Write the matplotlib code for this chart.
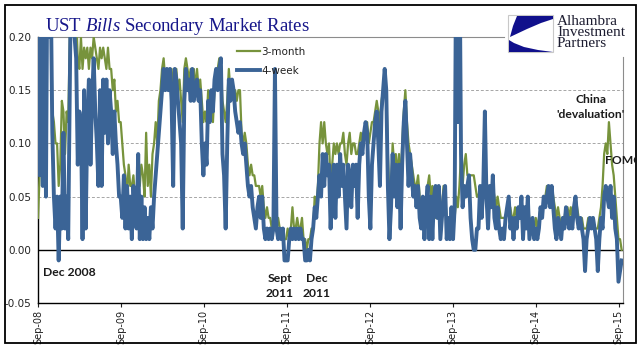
import numpy as np
import pandas as pd
import matplotlib
matplotlib.use("Agg")
import matplotlib.pyplot as plt
import matplotlib.dates as mdates
from matplotlib.patches import Rectangle, Polygon
from matplotlib.transforms import Bbox, TransformedBbox
from matplotlib import rcParams

rcParams['font.family'] = 'DejaVu Sans'
rcParams['mathtext.fontset'] = 'custom'
rcParams['mathtext.rm'] = 'Liberation Serif'
rcParams['mathtext.it'] = 'Liberation Serif:italic'

# weekly readings, Sep 2008 -> Sep 2015 (values above 0.20 are off the chart)
start_date = "2008-09-01"

bills_3m = [
    0.03, 0.07, 0.25, 0.30, 0.30, 0.25, 0.30, 0.30, 0.25, 0.13, 0.12, 0.10, 0.10,
    0.06, 0.08, 0.14, 0.13, 0.09, 0.13, 0.12, 0.20, 0.30, 0.25, 0.30, 0.22, 0.18,
    0.17, 0.20, 0.17, 0.19, 0.18, 0.19, 0.17, 0.19, 0.18, 0.20, 0.19, 0.18, 0.17,
    0.19, 0.18, 0.19, 0.18, 0.17, 0.19, 0.17, 0.17, 0.15, 0.16, 0.13, 0.14, 0.12,
    # Sep-09
    0.12, 0.10, 0.08, 0.07, 0.05, 0.08, 0.06, 0.06, 0.07, 0.05, 0.02, 0.08, 0.06,
    0.08, 0.07, 0.05, 0.11, 0.06, 0.08, 0.05, 0.09, 0.10, 0.12, 0.10, 0.14, 0.15,
    0.17, 0.18, 0.16, 0.17, 0.17, 0.16, 0.17, 0.15, 0.17, 0.17, 0.15, 0.16, 0.14,
    0.12, 0.17, 0.18, 0.17, 0.16, 0.17, 0.16, 0.17, 0.15, 0.17, 0.15, 0.16, 0.14,
    # Sep-10
    0.12, 0.13, 0.12, 0.15, 0.13, 0.14, 0.12, 0.15, 0.17, 0.17, 0.18, 0.17, 0.14,
    0.13, 0.12, 0.14, 0.17, 0.15, 0.16, 0.15, 0.15, 0.14, 0.15, 0.15, 0.11, 0.10,
    0.11, 0.10, 0.08, 0.07, 0.08, 0.07, 0.07, 0.06, 0.06, 0.06, 0.05, 0.06, 0.04,
    0.03, 0.04, 0.03, 0.03, 0.02, 0.03, 0.04, 0.02, 0.03, 0.02, 0.02, 0.01, 0.01,
    # Sep-11
    0.01, 0.02, 0.01, 0.02, 0.04, 0.02, 0.02, 0.03, 0.02, 0.02, 0.03, 0.01, 0.01,
    0.00, 0.01, 0.01, 0.02, 0.02, 0.05, 0.04, 0.06, 0.10, 0.12, 0.10, 0.12, 0.10,
    0.09, 0.10, 0.06, 0.08, 0.10, 0.09, 0.10, 0.09, 0.10, 0.10, 0.11, 0.09, 0.08,
    0.10, 0.11, 0.09, 0.10, 0.10, 0.09, 0.09, 0.10, 0.11, 0.10, 0.11, 0.12, 0.12,
    # Sep-12
    0.10, 0.11, 0.12, 0.12, 0.13, 0.14, 0.13, 0.12, 0.14, 0.15, 0.16, 0.15, 0.09,
    0.05, 0.06, 0.10, 0.08, 0.09, 0.07, 0.09, 0.06, 0.10, 0.13, 0.15, 0.12, 0.10,
    0.09, 0.08, 0.07, 0.06, 0.06, 0.07, 0.05, 0.04, 0.05, 0.03, 0.05, 0.06, 0.07,
    0.05, 0.06, 0.04, 0.03, 0.05, 0.05, 0.03, 0.04, 0.06, 0.05, 0.03, 0.02, 0.02,
    # Sep-13
    0.03, 0.02, 0.03, 0.05, 0.04, 0.06, 0.09, 0.06, 0.08, 0.09, 0.07, 0.07, 0.07,
    0.07, 0.07, 0.06, 0.05, 0.05, 0.06, 0.05, 0.05, 0.06, 0.05, 0.04, 0.05, 0.05,
    0.06, 0.05, 0.04, 0.05, 0.04, 0.03, 0.03, 0.03, 0.03, 0.04, 0.04, 0.04, 0.03,
    0.03, 0.04, 0.03, 0.04, 0.04, 0.04, 0.03, 0.04, 0.03, 0.04, 0.03, 0.02, 0.03,
    # Sep-14
    0.02, 0.03, 0.02, 0.03, 0.04, 0.04, 0.04, 0.05, 0.06, 0.05, 0.05, 0.06, 0.05,
    0.04, 0.03, 0.04, 0.03, 0.02, 0.03, 0.03, 0.04, 0.04, 0.03, 0.04, 0.03, 0.04,
    0.05, 0.04, 0.03, 0.03, 0.03, 0.02, 0.02, 0.02, 0.03, 0.03, 0.03, 0.03, 0.02,
    0.02, 0.02, 0.03, 0.04, 0.06, 0.09, 0.10, 0.09, 0.12, 0.10, 0.08, 0.07, 0.05,
    0.03, 0.01, 0.01, 0.00,
]

bills_4w = [
    0.25, 0.07, 0.30, 0.06, 0.25, 0.05, 0.30, 0.20, 0.25, 0.11, 0.05, 0.02, 0.05,
    -0.01, 0.05, 0.02, 0.11, 0.02, 0.05, 0.01, 0.15, 0.30, 0.25, 0.20, 0.18, 0.08,
    0.13, 0.12, 0.01, 0.15, 0.02, 0.12, 0.16, 0.08, 0.14, 0.18, 0.13, 0.10, 0.06,
    0.15, 0.06, 0.16, 0.11, 0.16, 0.10, 0.15, 0.13, 0.09, 0.13, 0.10, 0.08, 0.05,
    # Sep-09
    0.05, 0.03, 0.07, 0.02, 0.06, 0.02, 0.05, 0.01, 0.06, 0.03, 0.02, 0.09, 0.01,
    0.05, 0.01, 0.04, 0.01, 0.03, 0.01, 0.04, 0.02, 0.05, 0.07, 0.09, 0.11, 0.13,
    0.15, 0.17, 0.15, 0.17, 0.15, 0.17, 0.14, 0.06, 0.17, 0.16, 0.14, 0.12, 0.10,
    0.02, 0.14, 0.17, 0.15, 0.16, 0.14, 0.17, 0.14, 0.15, 0.16, 0.14, 0.15, 0.10,
    # Sep-10
    0.07, 0.10, 0.08, 0.14, 0.12, 0.15, 0.13, 0.16, 0.17, 0.15, 0.17, 0.18, 0.09,
    0.07, 0.02, 0.10, 0.16, 0.14, 0.16, 0.15, 0.13, 0.12, 0.11, 0.12, 0.10, 0.09,
    0.10, 0.08, 0.06, 0.05, 0.06, 0.04, 0.03, 0.02, 0.04, 0.05, 0.03, 0.05, 0.02,
    0.01, 0.02, 0.01, 0.02, 0.01, 0.02, 0.17, 0.02, 0.01, 0.02, 0.01, 0.02, -0.01,
    # Sep-11
    -0.01, -0.01, 0.01, 0.02, 0.01, 0.02, 0.01, 0.02, 0.01, 0.02, 0.01, 0.01, -0.01,
    -0.01, 0.00, -0.01, 0.01, 0.02, 0.04, 0.03, 0.05, 0.07, 0.05, 0.09, 0.06, 0.09,
    0.07, 0.08, 0.02, 0.06, 0.08, 0.03, 0.08, 0.05, 0.09, 0.06, 0.08, 0.05, 0.02,
    0.08, 0.07, 0.04, 0.08, 0.06, 0.08, 0.03, 0.08, 0.10, 0.09, 0.11, 0.12, 0.11,
    # Sep-12
    0.05, 0.02, 0.08, 0.10, 0.12, 0.13, 0.10, 0.06, 0.13, 0.15, 0.17, 0.15, 0.06,
    0.01, 0.04, 0.09, 0.05, 0.08, 0.04, 0.08, 0.02, 0.08, 0.12, 0.14, 0.10, 0.06,
    0.09, 0.07, 0.05, 0.06, 0.04, 0.06, 0.03, 0.02, 0.05, 0.01, 0.04, 0.06, 0.01,
    0.05, 0.01, 0.05, 0.06, 0.03, 0.06, 0.01, 0.03, 0.05, 0.06, 0.01, 0.03, 0.01,
    # Sep-13
    0.04, 0.01, 0.04, 0.30, 0.12, 0.30, 0.09, 0.04, 0.06, 0.05, 0.06, 0.07, 0.03,
    0.01, 0.00, 0.00, 0.02, 0.02, 0.06, 0.03, 0.06, 0.13, 0.05, 0.02, 0.06, 0.04,
    0.07, 0.03, 0.02, 0.04, 0.02, 0.01, 0.02, 0.01, 0.03, 0.04, 0.05, 0.02, 0.03,
    0.01, 0.03, 0.02, 0.04, 0.03, 0.05, 0.01, 0.04, 0.02, 0.05, 0.01, 0.02, 0.03,
    # Sep-14
    0.01, 0.02, 0.01, 0.02, 0.04, 0.03, 0.05, 0.04, 0.05, 0.06, 0.04, 0.06, 0.04,
    0.02, 0.01, 0.03, 0.02, 0.01, 0.03, 0.02, 0.04, 0.03, 0.02, 0.03, 0.02, 0.04,
    0.05, 0.03, 0.02, 0.03, 0.02, 0.01, -0.02, 0.01, 0.02, 0.03, 0.02, 0.03, 0.02,
    0.01, -0.02, 0.01, 0.03, 0.02, 0.05, 0.06, 0.05, 0.04, 0.06, 0.03, 0.05, 0.02,
    0.01, -0.03, -0.02, -0.01,
]

dates = pd.date_range(start_date, periods=len(bills_4w), freq="7D")
year_ticks = pd.date_range("2008-09-01", "2015-09-01", freq="12MS")

green = "#77933c"
blue = "#3b6496"
navy = "#16168a"

W, H = 644, 361
fig = plt.figure(figsize=(W / 100, H / 100), dpi=100)
fig.patch.set_facecolor("white")


def fx(px):
    return px / W


def fy(py):
    return 1 - py / H


ax = fig.add_axes([fx(38), fy(303), fx(623) - fx(38), fy(37) - fy(303)])

ax.plot(dates, bills_3m, color=green, lw=1.6, solid_joinstyle="round", label="3-month", zorder=3)
ax.plot(dates, bills_4w, color=blue, lw=2.8, solid_joinstyle="round", label="4-week", zorder=4)

ax.set_ylim(-0.05, 0.20)
ax.set_xlim(pd.Timestamp("2008-09-01"), pd.Timestamp("2015-09-20"))
ax.set_yticks(np.arange(-0.05, 0.201, 0.05))
ax.yaxis.set_major_formatter(matplotlib.ticker.FormatStrFormatter("%.2f"))
ax.set_xticks(year_ticks)
ax.xaxis.set_major_formatter(mdates.DateFormatter("Sep-%y"))
plt.setp(ax.get_xticklabels(), rotation=90, ha="center", va="top")
ax.tick_params(axis="y", length=0, pad=5, labelsize=7.5, colors="#222222")
ax.tick_params(axis="x", length=3, width=0.8, direction="out", pad=2, labelsize=7, colors="#222222")

for g in [0.05, 0.10, 0.15]:
    ax.axhline(g, color="#a6a6a6", lw=0.7, ls=(0, (3, 2)), zorder=1)
ax.axhline(0, color="black", lw=1.0, zorder=2)

ax.spines["left"].set_color("black")
ax.spines["bottom"].set_color("black")
ax.spines["left"].set_linewidth(1.0)
ax.spines["bottom"].set_linewidth(1.0)
ax.spines["top"].set_color("#8c8c8c")
ax.spines["right"].set_color("#8c8c8c")
ax.spines["top"].set_linewidth(0.8)
ax.spines["right"].set_linewidth(0.8)
ax.spines["top"].set_bounds(mdates.date2num(pd.Timestamp("2008-09-01")),
                            mdates.date2num(pd.Timestamp("2014-04-15")))
ax.spines["right"].set_bounds(-0.05, 0.181)

leg = ax.legend(loc="upper left", bbox_to_anchor=((237 - 38) / 585, (303 - 47) / 266),
                frameon=False, fontsize=7.5, handlelength=2.2, handletextpad=0.15,
                labelspacing=0.85, borderpad=0, borderaxespad=0)
for t in leg.get_texts():
    t.set_color("#222222")


def ax_px(px, py):
    return (px - 38) / 585, (303 - py) / 266


bold = dict(fontfamily="Lato", fontweight="bold", fontsize=8.7, color="#1a1a1a")
ax.text(*ax_px(43, 273), "Dec 2008", transform=ax.transAxes, ha="left", va="center", **bold)
ax.text(*ax_px(280, 286), "Sept\n2011", transform=ax.transAxes, ha="center", va="center",
        multialignment="center", linespacing=1.35, **bold)
ax.text(*ax_px(317, 286), "Dec\n2011", transform=ax.transAxes, ha="center", va="center",
        multialignment="center", linespacing=1.35, **bold)
ax.text(*ax_px(591, 107), "China\n'devaluation'", transform=ax.transAxes, ha="center",
        va="center", multialignment="center", linespacing=1.35, clip_on=False, **bold)
fomc = fig.text(fx(605), fy(160), "FOMC", ha="left", va="center", **bold)
fomc.set_clip_box(TransformedBbox(Bbox([[0, 0], [fx(636), 1]]), fig.transFigure))
fomc.set_clip_on(True)

# title
fig.text(fx(45), fy(31), r"UST $Bills$ Secondary Market Rates", ha="left", va="baseline",
         fontfamily="Liberation Serif", fontsize=13.5, color=navy)

# logo
logo_box = Rectangle((fx(508), fy(52)), fx(553) - fx(508), fy(15) - fy(52),
                     transform=fig.transFigure, facecolor="white", edgecolor="#c8c8c8", lw=0.8)
fig.patches.append(logo_box)
sail = [(517, 16), (553, 16), (553, 19), (541, 23), (527, 29), (510, 37), (513, 26)]
swoosh = [(509, 40), (509, 52), (553, 52), (538, 50), (524, 47), (514, 43)]
for shape in [sail, swoosh]:
    fig.patches.append(Polygon([(fx(a), fy(b)) for a, b in shape], closed=True,
                               transform=fig.transFigure, facecolor="#10108c", edgecolor="none"))
fig.text(fx(557), fy(32.5), "Alhambra\nInvestment\nPartners", ha="left", va="center",
         linespacing=0.82, fontfamily="Liberation Serif", fontsize=11, color="#1c1c30")

# outer frame
fig.patches.append(Rectangle((fx(5), fy(343)), fx(636) - fx(5), fy(5) - fy(343),
                             transform=fig.transFigure, facecolor="none", edgecolor="black", lw=1.3))

fig.savefig("out.png", dpi=100)
